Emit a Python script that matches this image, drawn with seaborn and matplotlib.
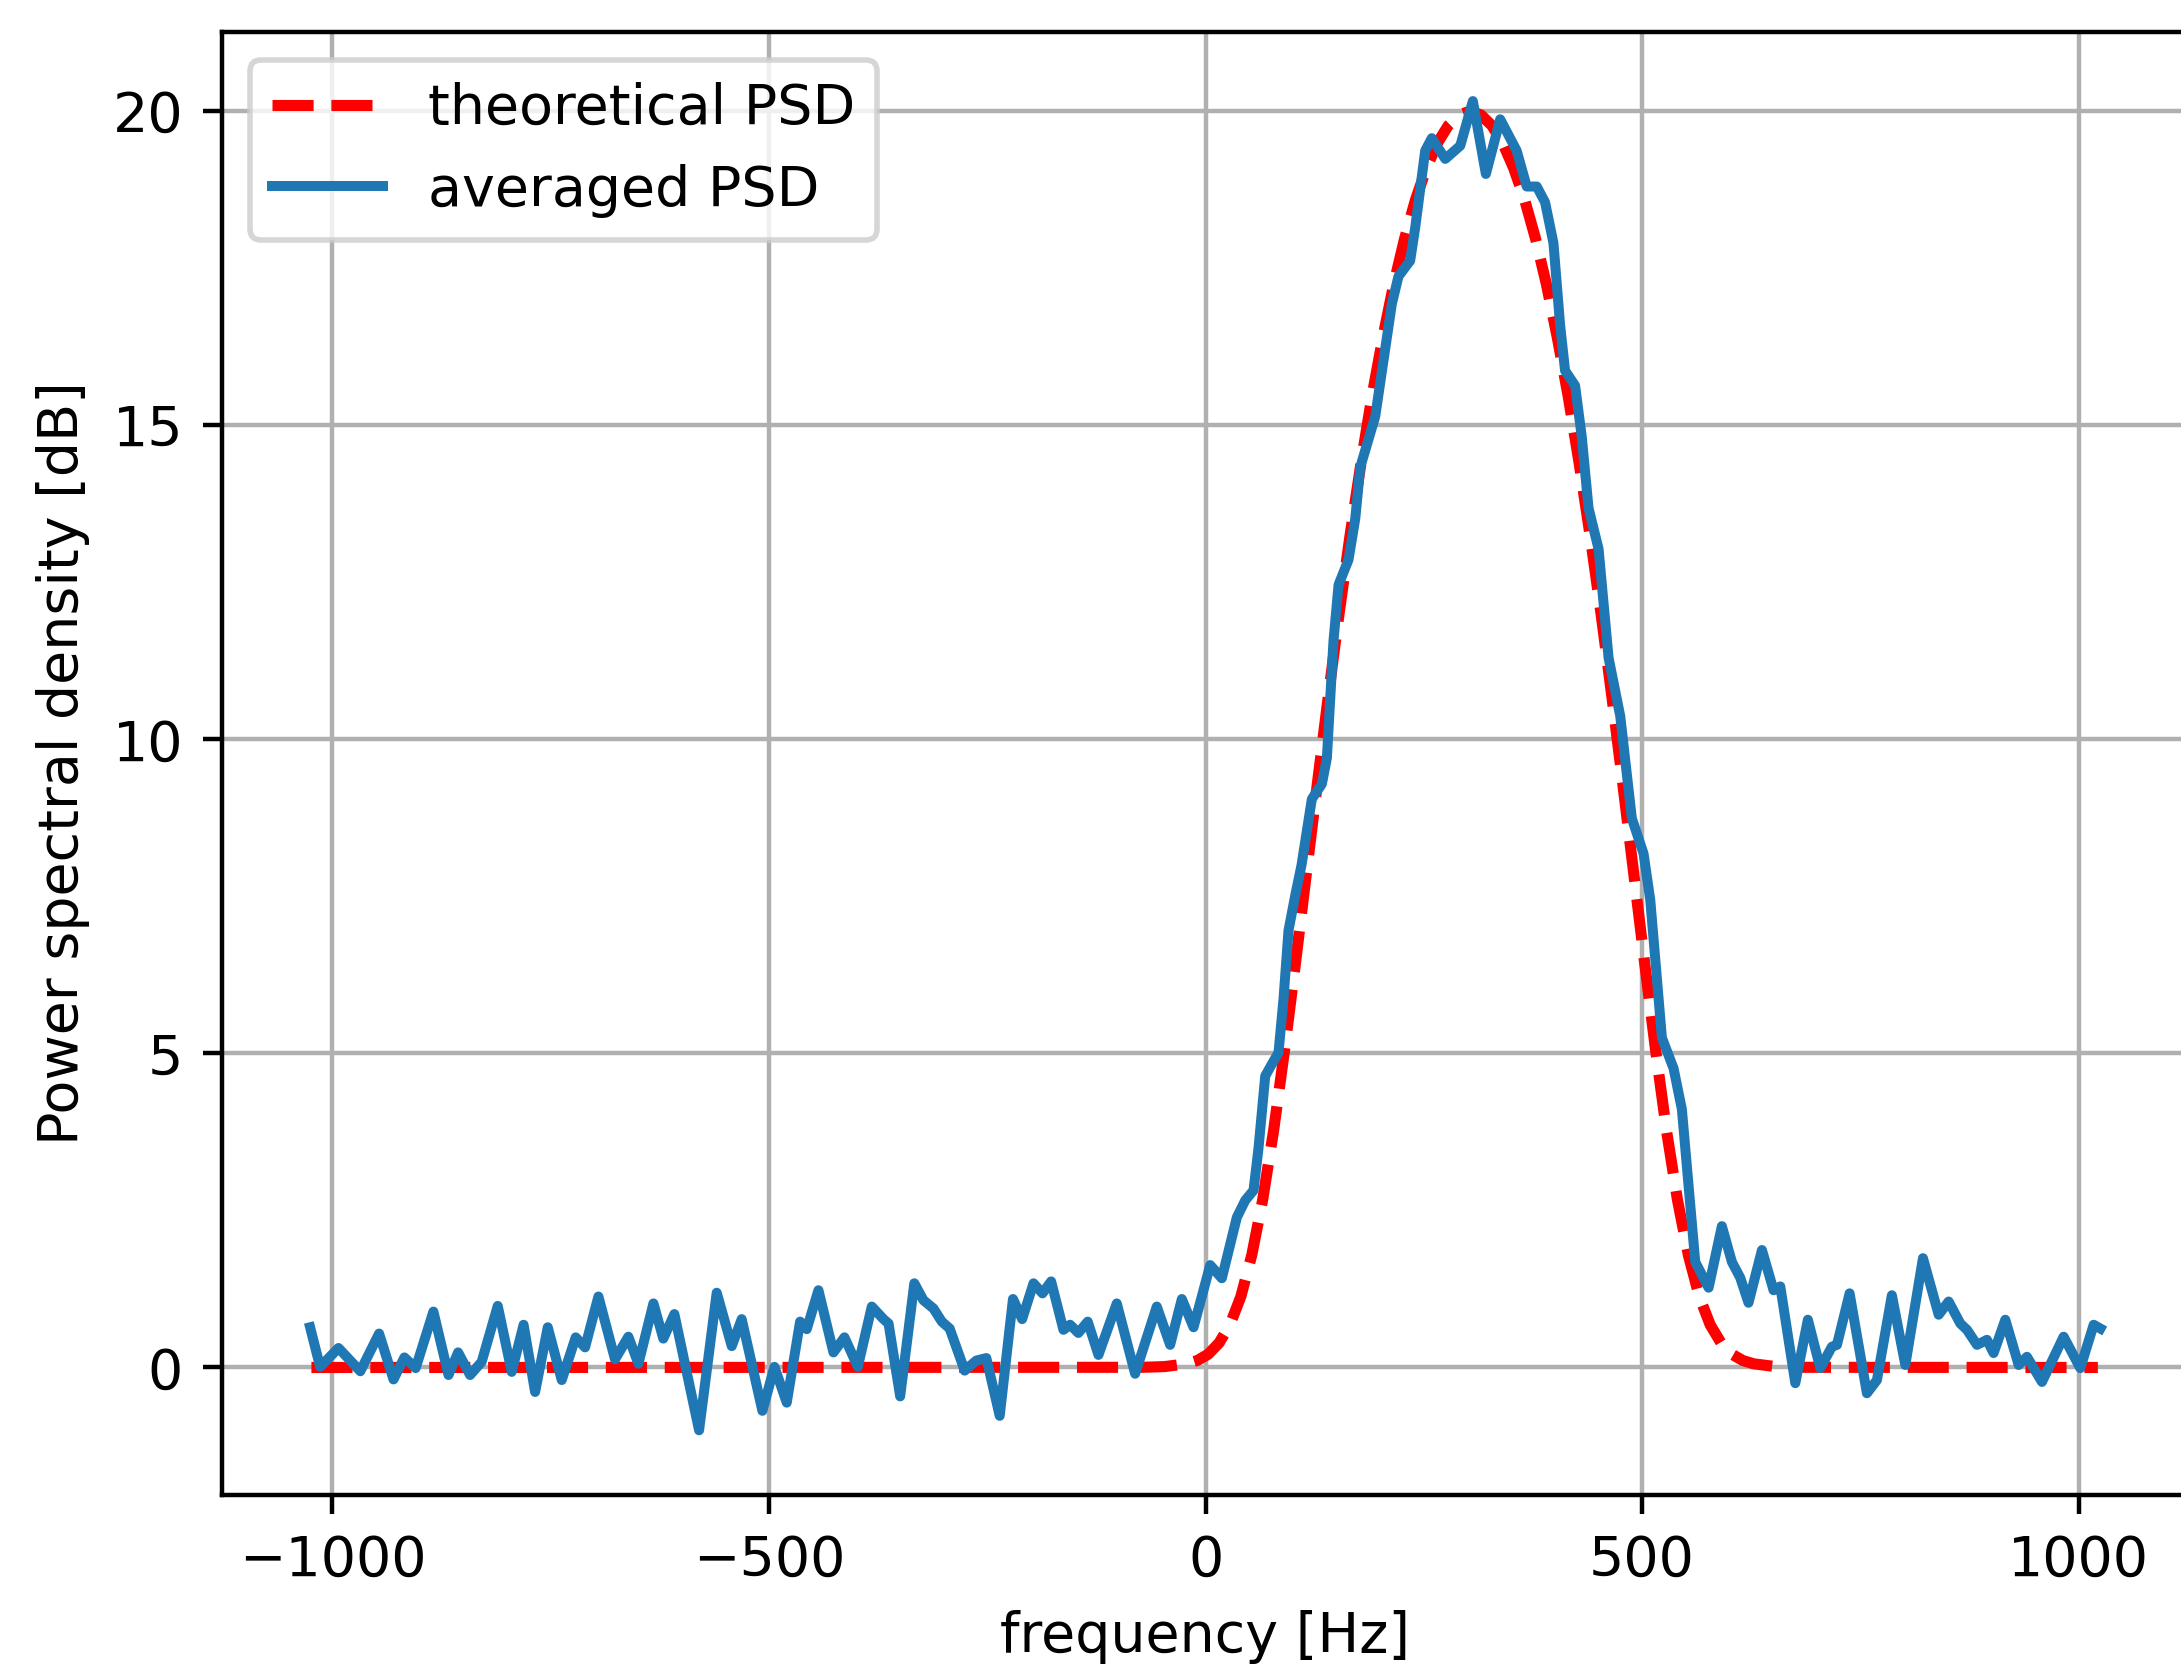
import matplotlib
matplotlib.use("Agg")
import matplotlib.pyplot as plt
import seaborn as sns

# theoretical PSD (dB)
theo_freq = [-1024, -72, -47, -22, -9.5, 3, 15.5, 28, 40.5, 53, 65.5, 78, 90.5,
             103, 115.5, 128, 140.5, 153, 165.5, 178, 190.5, 203, 215.5, 228,
             240.5, 253, 265.5, 278, 290.5, 303, 315.5, 328, 340.5, 353, 365.5,
             378, 390.5, 403, 415.5, 428, 440.5, 453, 465.5, 478, 490.5, 503,
             515.5, 528, 540.5, 553, 565.5, 578, 590.5, 603, 615.5, 628, 653,
             678, 1022]
theo_psd = [0.0, 0.003, 0.014, 0.058, 0.11, 0.21, 0.39, 0.68, 1.13, 1.79, 2.67,
            3.77, 5.05, 6.43, 7.86, 9.28, 10.67, 12.00, 13.24, 14.39, 15.45,
            16.39, 17.24, 17.97, 18.59, 19.09, 19.49, 19.77, 19.94, 20.00,
            19.94, 19.77, 19.49, 19.09, 18.59, 17.97, 17.24, 16.39, 15.45,
            14.39, 13.24, 12.00, 10.67, 9.28, 7.86, 6.43, 5.05, 3.77, 2.67,
            1.79, 1.13, 0.68, 0.39, 0.21, 0.11, 0.058, 0.014, 0.003, 0.0]

# averaged PSD (noisy estimate)
avg_freq = [-1025.5, -1014, -993, -968, -946.5, -930, -917.5, -904.6, -884.3,
            -867, -856, -842.3, -829, -810.6, -794.6, -781, -767.8, -753.3,
            -737.3, -721.3, -710.6, -695.3, -676.3, -661, -649.5, -632.3, -621,
            -608.3, -580, -559.8, -542.6, -531.2, -507.5, -493.7, -479.6,
            -464.3, -456.7, -443.3, -426.1, -413.5, -398.2, -382.2, -368.8,
            -363, -349.7, -333.5, -323, -311.6, -302, -293, -275.8, -262.5,
            -251, -235.7, -220.5, -210, -197, -186.7, -176.8, -162.7, -155.1,
            -145.6, -134.9, -122.6, -101.6, -80.6, -55.8, -40.5, -27.1, -13.7,
            5.4, 18.7, 35.9, 45.5, 55, 60.7, 68.4, 76, 83.6, 89.3, 95.1, 102.7,
            110, 121.8, 133.3, 139, 146.6, 152.4, 163.8, 171.5, 177.2, 194.4,
            213.4, 221, 234.4, 240.2, 251.6, 259.2, 274.6, 291.8, 306.2, 321.1,
            337.5, 356.4, 367.9, 379.4, 388.9, 398.5, 406.1, 411.8, 423.3,
            430.9, 438.7, 450.2, 461.6, 475, 488.3, 501.7, 509.4, 522.7, 536.1,
            545.6, 560.9, 576.2, 591.4, 602.9, 612.4, 621.9, 637.3, 650.6,
            658.3, 675.5, 689.9, 704.1, 717.4, 723.2, 737.7, 757.5, 769, 786.1,
            801.5, 821.7, 839.7, 851.1, 864.5, 872.1, 883.6, 895, 902.6, 916,
            931.3, 940.8, 958, 982.8, 1001.9, 1017.2, 1024.9]
avg_psd = [0.64, 0.01, 0.31, -0.06, 0.54, -0.19, 0.16, -0.01, 0.89,
           -0.12, 0.24, -0.12, 0.09, 0.98, -0.07, 0.68, -0.39, 0.64,
           -0.20, 0.48, 0.32, 1.13, 0.13, 0.49, 0.06, 1.02, 0.46,
           0.85, -1.00, 1.19, 0.34, 0.77, -0.69, 0.01, -0.56,
           0.73, 0.61, 1.23, 0.24, 0.48, 0.01, 0.97, 0.77,
           0.70, -0.46, 1.34, 1.07, 0.94, 0.73, 0.62, -0.05, 0.11,
           0.15, -0.77, 1.09, 0.77, 1.34, 1.18, 1.37, 0.60, 0.68,
           0.55, 0.73, 0.20, 1.02, -0.10, 0.97, 0.36, 1.09, 0.64,
           1.63, 1.42, 2.39, 2.66, 2.82, 3.49, 4.64, 4.83, 5.01, 5.86, 6.96, 7.51,
           8.00, 9.05, 9.29, 9.70, 11.57, 12.46, 12.86, 13.51, 14.33, 15.14,
           16.93, 17.37, 17.62, 18.15, 19.37, 19.57, 19.24, 19.45, 20.16, 19.00,
           19.87, 19.37, 18.80, 18.80, 18.55, 17.90, 16.60, 15.87, 15.63,
           14.82, 13.68, 13.03, 11.30, 10.37, 8.74, 8.18, 7.44, 5.25, 4.76,
           4.11, 1.68, 1.27, 2.25, 1.68, 1.43, 1.03, 1.87, 1.23,
           1.29, -0.25, 0.76, -0.01, 0.33, 0.36, 1.18, -0.41, -0.20, 1.15,
           0.04, 1.74, 0.84, 1.05, 0.70, 0.60, 0.36, 0.44, 0.23, 0.76,
           0.04, 0.17, -0.23, 0.49, -0.01, 0.68, 0.62]

plt.rcParams['font.family'] = ['DejaVu Sans']

fig = plt.figure(figsize=(2181 / 400, 1667 / 400), dpi=400)
ax = fig.add_axes([222 / 2181, 1 - 1495 / 1667, 1967 / 2181, 1463 / 1667])

sns.lineplot(x=theo_freq, y=theo_psd, ax=ax, color='red', linestyle='--',
             linewidth=2, label='theoretical PSD', sort=False)
sns.lineplot(x=avg_freq, y=avg_psd, ax=ax, color='#1f77b4', linewidth=1.8,
             label='averaged PSD', sort=False)

ax.set_xlim(-1126.4, 1126.4)
ax.set_ylim(-2.03, 21.26)
ax.set_xticks([-1000, -500, 0, 500, 1000])
ax.set_yticks([0, 5, 10, 15, 20])
ax.grid(True, color='#b0b0b0', linewidth=0.8)
ax.set_axisbelow(True)
ax.set_xlabel('frequency [Hz]')
ax.set_ylabel('Power spectral density [dB]')
ax.legend(loc='upper left')

fig.savefig('out.png', dpi=400)
plt.close(fig)
